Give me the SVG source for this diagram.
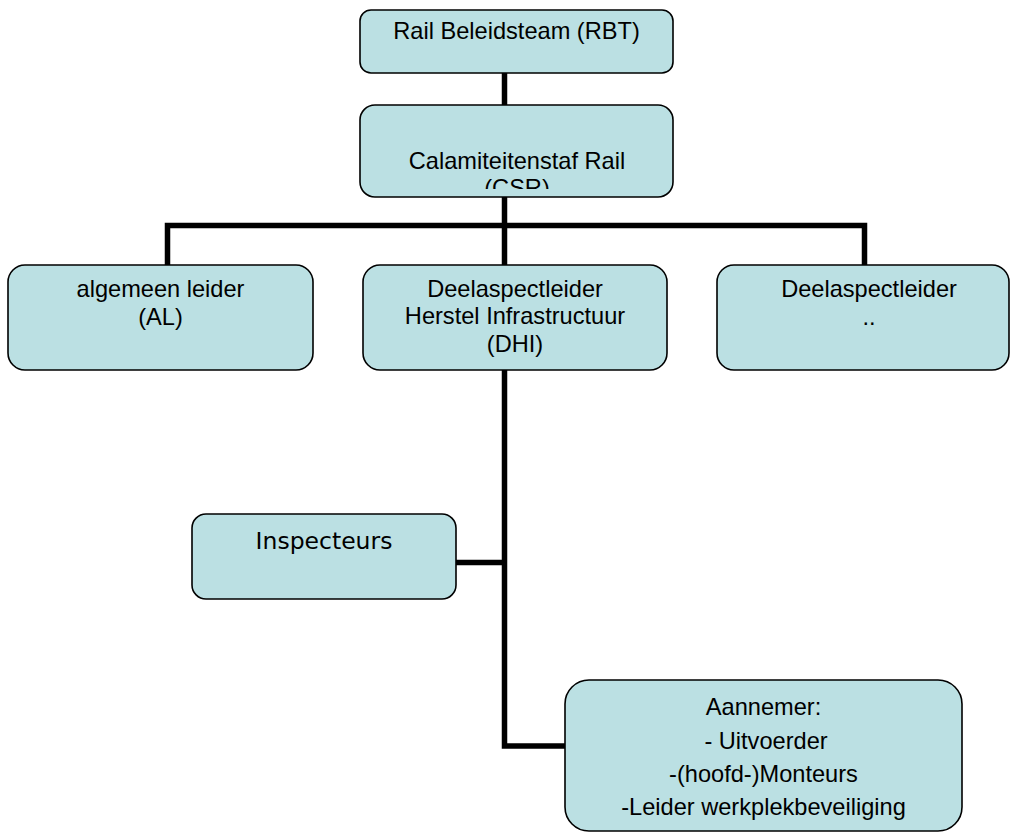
<svg xmlns="http://www.w3.org/2000/svg" width="1011" height="834" viewBox="0 0 1011 834">
<defs>
<style>
.box{fill:#BBE0E3;stroke:#000;stroke-width:1.6}
.t{font-family:"Liberation Sans",Arial,sans-serif;font-size:23.6px;fill:#000;text-anchor:middle}
.v{font-family:"DejaVu Sans",Verdana,sans-serif;font-size:23.5px;fill:#000;text-anchor:middle}
.c{fill:none;stroke:#000;stroke-width:5.5;stroke-linejoin:miter;stroke-linecap:butt}
</style>
<clipPath id="clipCSR"><rect x="360" y="105" width="313" height="84"/></clipPath>
</defs>
<rect width="1011" height="834" fill="#fff"/>
<g id="connectors">
<path class="c" d="M504.5 73 V105"/>
<path class="c" d="M504.5 197 V265"/>
<path class="c" d="M167.5 265 V225.5 H864.5 V265"/>
<path class="c" d="M504.5 370 V746 H565"/>
<path class="c" d="M456 562.5 H504.5"/>
</g>
<g id="rbt">
<rect class="box" x="360" y="10" width="313" height="63" rx="11"/>
<text class="t" x="516.5" y="38.5">Rail Beleidsteam (RBT)</text>
</g>
<g id="csr">
<rect class="box" x="360" y="105" width="313" height="92" rx="15"/>
<g clip-path="url(#clipCSR)">
<text class="t" x="517" y="168.5">Calamiteitenstaf Rail</text>
<text class="t" x="517" y="195.5">(CSR)</text>
</g>
</g>
<g id="al">
<rect class="box" x="8" y="265" width="305" height="105" rx="17"/>
<text class="t" x="160.5" y="296.5">algemeen leider</text>
<text class="t" x="160.5" y="324.5">(AL)</text>
</g>
<g id="dhi">
<rect class="box" x="363" y="265" width="304" height="105" rx="17"/>
<text class="t" x="515" y="296.5">Deelaspectleider</text>
<text class="t" x="515" y="324">Herstel Infrastructuur</text>
<text class="t" x="515" y="351.5">(DHI)</text>
</g>
<g id="dl">
<rect class="box" x="717" y="265" width="292" height="105" rx="17"/>
<text class="t" x="869" y="296.5">Deelaspectleider</text>
<text class="t" x="869" y="324.5">..</text>
</g>
<g id="inspecteurs">
<rect class="box" x="192" y="514" width="264" height="85" rx="14"/>
<text class="v" x="324" y="549">Inspecteurs</text>
</g>
<g id="aannemer">
<rect class="box" x="565" y="680" width="397" height="151" rx="24"/>
<text class="t" x="763.5" y="715">Aannemer:</text>
<text class="t" x="766" y="748.5">- Uitvoerder</text>
<text class="t" x="763.5" y="782">-(hoofd-)Monteurs</text>
<text class="t" x="763.5" y="815">-Leider werkplekbeveiliging</text>
</g>
</svg>
